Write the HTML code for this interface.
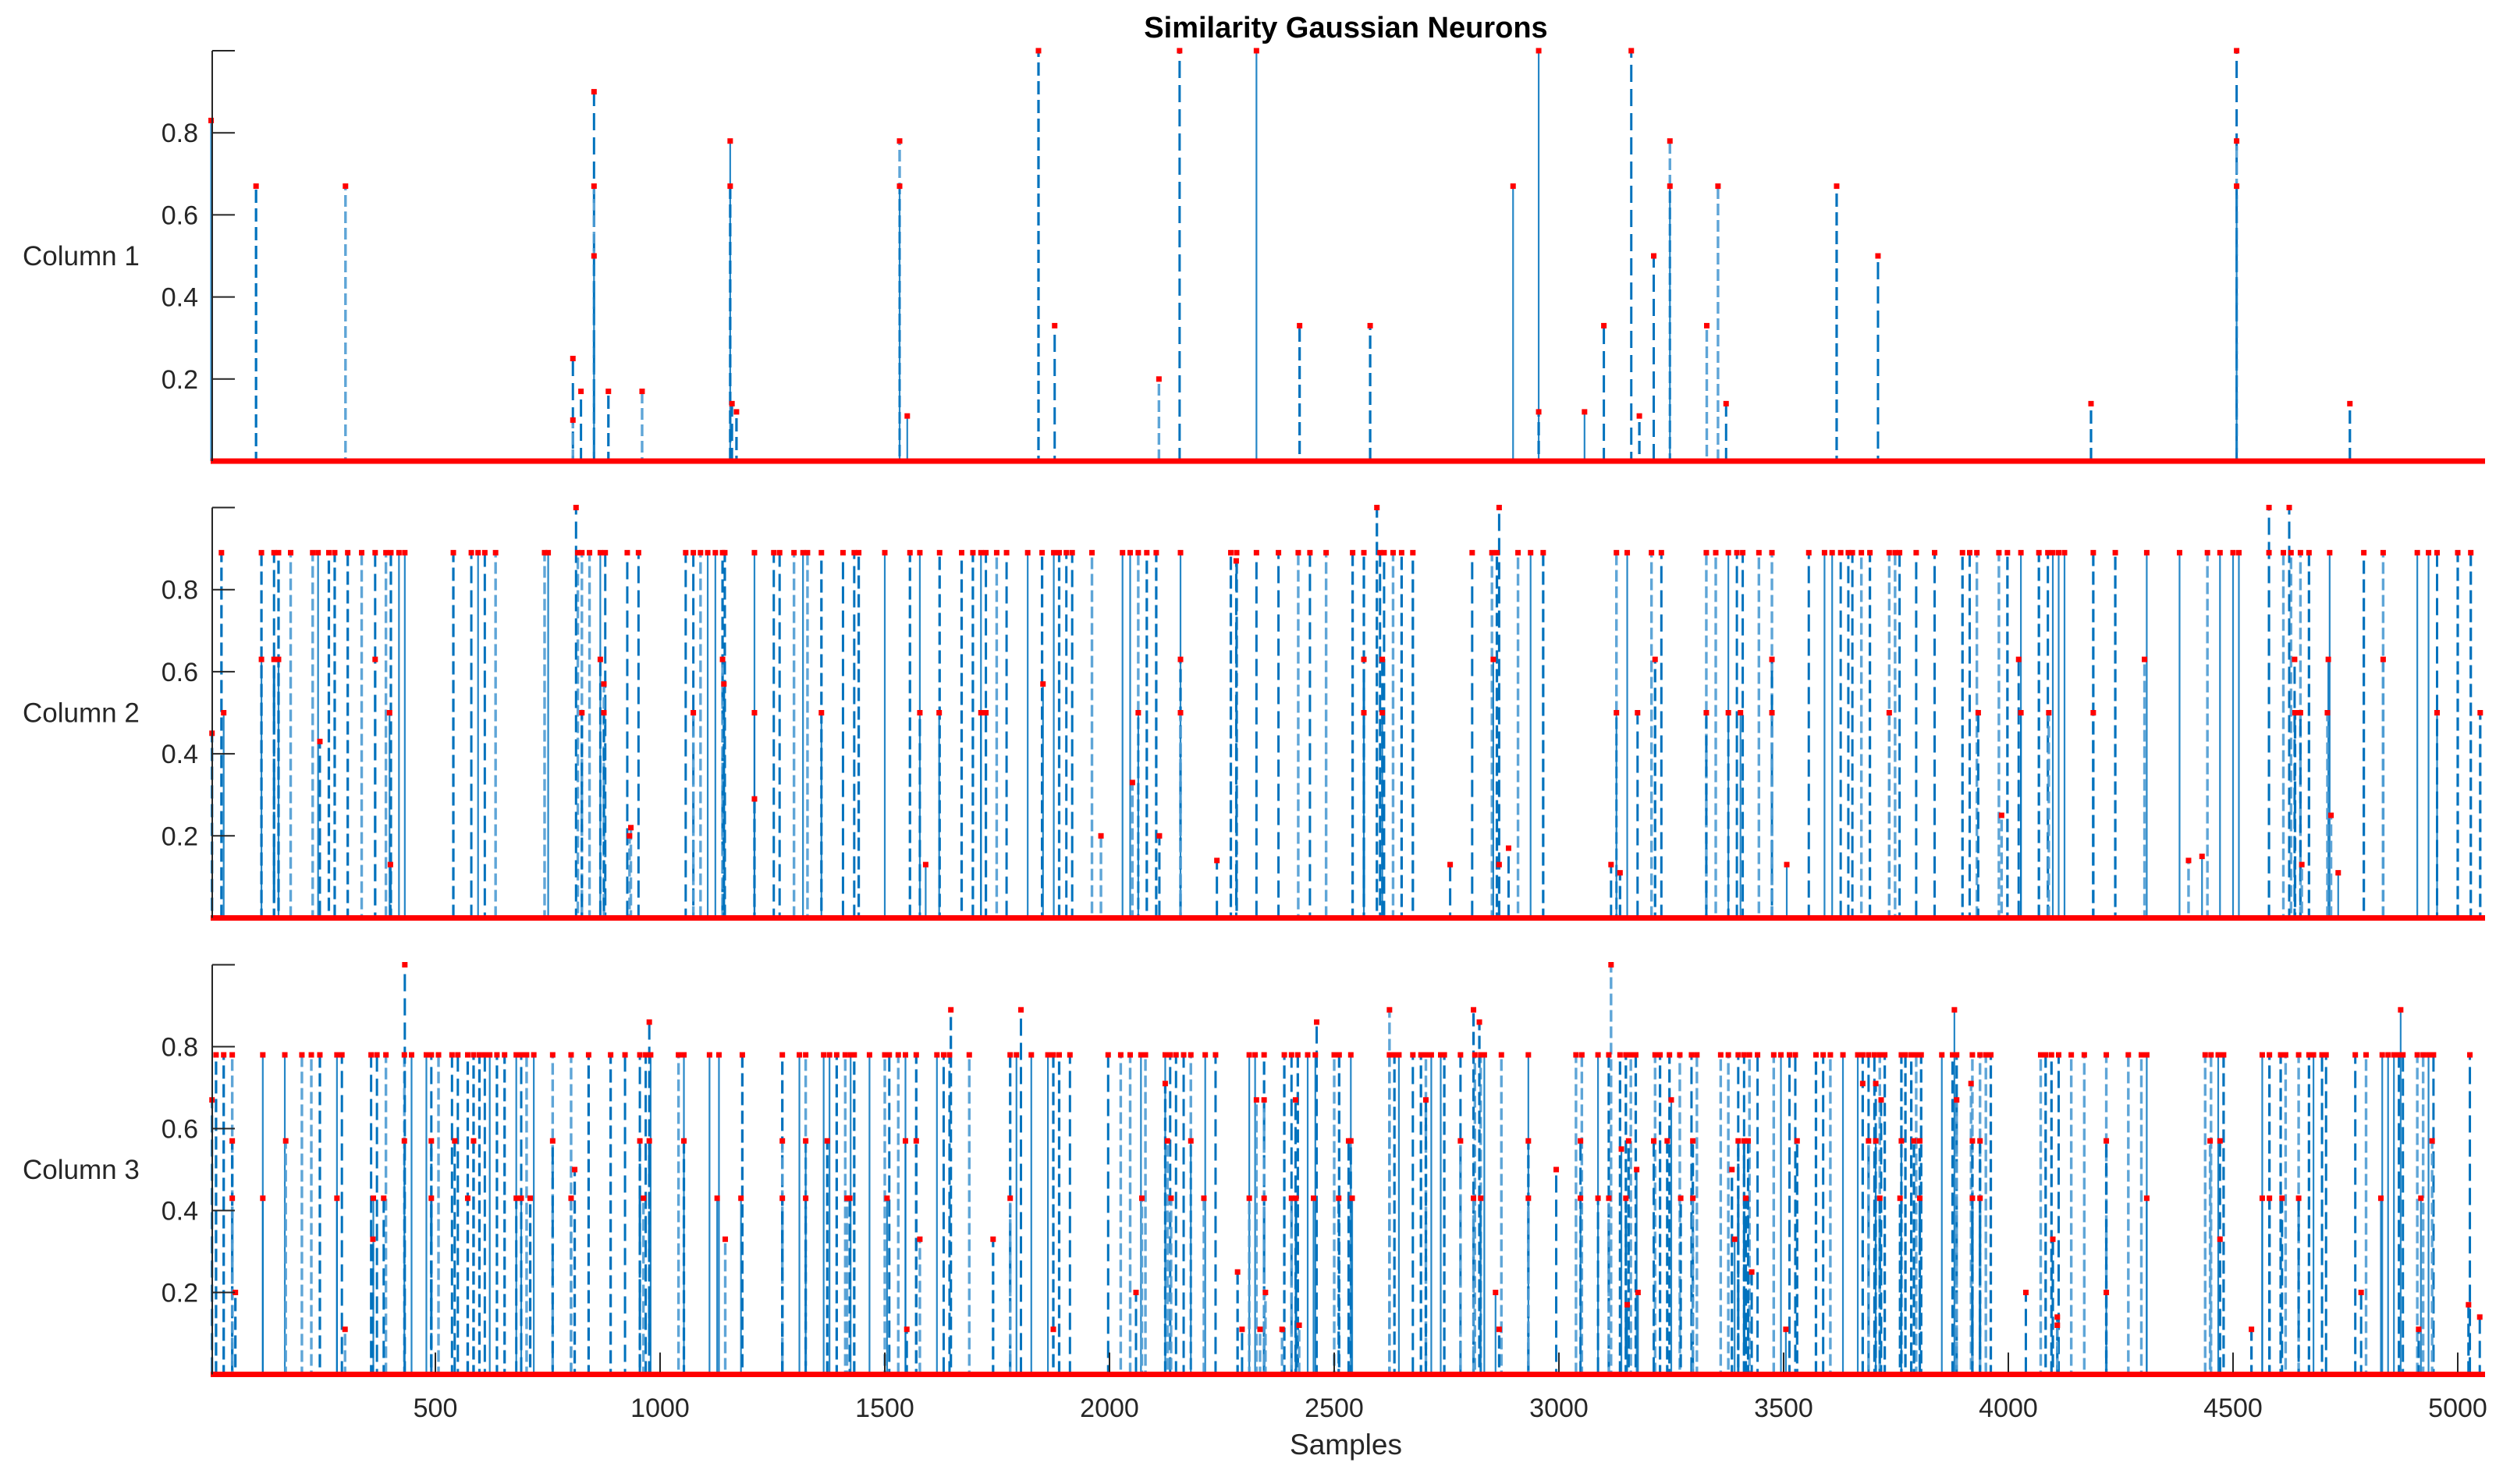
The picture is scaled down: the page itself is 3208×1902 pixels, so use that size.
<!DOCTYPE html>
<html><head><meta charset="utf-8"><style>
html,body{margin:0;padding:0;background:#fff;}
svg{display:block;}
text{font-family:"Liberation Sans",Arial,sans-serif;fill:#262626;}
</style></head><body>
<svg id="chart" width="3208" height="1902" viewBox="0 0 3208 1902" xmlns="http://www.w3.org/2000/svg">
<rect width="3208" height="1902" fill="#fff"/>
<text x="1725" y="48" text-anchor="middle" font-size="38" font-weight="bold" style="fill:#000">Similarity Gaussian Neurons</text>
<text x="1725" y="1864" text-anchor="middle" font-size="37">Samples</text>
<g id="plots"></g>
</svg>
<script>
const xTickValues = [500,1000,1500,2000,2500,3000,3500,4000,4500,5000];
const yTickValues = [0.2,0.4,0.6,0.8];
const panelLabels = ["Column 1","Column 2","Column 3"];
const col1 = [[1,0.83],[101,0.67],[300,0.67],[806,0.25],[806,0.1],[824,0.17],[853,0.9],[853,0.67],[853,0.5],[885,0.17],[960,0.17],[1156,0.78],[1156,0.67],[1160,0.14],[1170,0.12],[1533,0.78],[1533,0.67],[1550,0.11],[1842,1.0],[1878,0.33],[2110,0.2],[2156,1.0],[2327,1.0],[2423,0.33],[2580,0.33],[2898,0.67],[2955,1.0],[2955,0.12],[3057,0.12],[3100,0.33],[3161,1.0],[3179,0.11],[3211,0.5],[3247,0.78],[3247,0.67],[3329,0.33],[3354,0.67],[3372,0.14],[3618,0.67],[3710,0.5],[4184,0.14],[4508,1.0],[4508,0.78],[4508,0.67],[4760,0.14]];
const col2Top = [24,113,141,151,178,227,239,263,276,305,336,366,390,401,419,432,540,580,595,610,634,743,751,817,826,843,867,878,927,952,1057,1074,1090,1106,1123,1139,1144,1210,1253,1266,1298,1318,1328,1359,1407,1432,1442,1500,1556,1578,1622,1671,1696,1714,1725,1749,1771,1818,1850,1876,1888,1904,1917,1961,2029,2046,2064,2083,2104,2158,2270,2283,2327,2376,2420,2446,2482,2541,2566,2602,2611,2631,2650,2675,2807,2851,2862,2909,2937,2965,3128,3152,3206,3228,3328,3349,3377,3396,3409,3445,3474,3556,3591,3608,3627,3644,3653,3673,3692,3735,3748,3758,3795,3836,3898,3914,3930,3979,3998,4028,4068,4088,4099,4112,4125,4189,4238,4308,4381,4443,4471,4500,4513,4580,4612,4629,4650,4669,4715,4791,4834,4910,4935,4954,5000,5029];
const col2TopValue = 0.89;
const col2Other = [[813,1.0],[2595,1.0],[2867,1.0],[4580,1.0],[4625,1.0],[2282,0.87],[113,0.63],[141,0.63],[151,0.63],[366,0.63],[867,0.63],[1139,0.63],[2158,0.63],[2566,0.63],[2607,0.63],[2854,0.63],[3214,0.63],[3474,0.63],[4023,0.63],[4303,0.63],[4637,0.63],[4712,0.63],[4834,0.63],[875,0.57],[1142,0.57],[1852,0.57],[29,0.5],[398,0.5],[826,0.5],[875,0.5],[1074,0.5],[1210,0.5],[1359,0.5],[1578,0.5],[1621,0.5],[1714,0.5],[1725,0.5],[2064,0.5],[2158,0.5],[2566,0.5],[2607,0.5],[3128,0.5],[3175,0.5],[3328,0.5],[3377,0.5],[3404,0.5],[3474,0.5],[3735,0.5],[3933,0.5],[4028,0.5],[4090,0.5],[4189,0.5],[4638,0.5],[4650,0.5],[4710,0.5],[4954,0.5],[5050,0.5],[3,0.45],[243,0.43],[2051,0.33],[1210,0.29],[3985,0.25],[4718,0.25],[935,0.22],[932,0.2],[1981,0.2],[2111,0.2],[2888,0.17],[4431,0.15],[4401,0.14],[2239,0.14],[400,0.13],[1591,0.13],[2758,0.13],[2867,0.13],[3116,0.13],[3507,0.13],[4653,0.13],[3136,0.11],[4734,0.11]];
const col3Top = [12,29,48,116,165,203,224,243,281,292,357,370,390,431,447,480,491,507,537,550,572,585,598,610,621,637,654,680,691,703,719,761,802,841,890,922,955,968,979,1041,1053,1110,1131,1183,1272,1310,1324,1364,1377,1393,1412,1424,1432,1466,1500,1510,1530,1546,1570,1616,1631,1644,1688,1779,1793,1826,1863,1875,1888,1912,1997,2025,2046,2070,2080,2124,2135,2148,2165,2181,2213,2236,2311,2324,2344,2389,2405,2419,2441,2458,2500,2511,2537,2623,2634,2644,2675,2693,2704,2716,2737,2745,2781,2813,2826,2834,2872,2932,3038,3051,3087,3111,3136,3149,3160,3171,3214,3225,3246,3269,3295,3307,3360,3377,3399,3412,3424,3442,3478,3494,3513,3526,3572,3588,3604,3632,3665,3676,3689,3702,3714,3725,3762,3771,3784,3795,3806,3852,3876,3885,3920,3937,3950,3961,4072,4083,4096,4112,4140,4169,4218,4267,4296,4308,4438,4451,4467,4479,4565,4581,4606,4617,4646,4669,4679,4698,4707,4772,4796,4832,4845,4858,4869,4878,4910,4923,4935,4946,5027];
const col3TopValue = 0.78;
const col3Other = [[432,1.0],[3116,1.0],[1647,0.89],[1803,0.89],[2623,0.89],[2810,0.89],[3880,0.89],[4873,0.89],[976,0.86],[2461,0.86],[2823,0.86],[2124,0.71],[3676,0.71],[3705,0.71],[3917,0.71],[3,0.67],[2327,0.67],[2344,0.67],[2414,0.67],[2704,0.67],[3250,0.67],[3717,0.67],[3885,0.67],[48,0.57],[167,0.57],[431,0.57],[491,0.57],[543,0.57],[585,0.57],[761,0.57],[955,0.57],[976,0.57],[1053,0.57],[1272,0.57],[1324,0.57],[1372,0.57],[1546,0.57],[1570,0.57],[2129,0.57],[2181,0.57],[2532,0.57],[2537,0.57],[2781,0.57],[2932,0.57],[3048,0.57],[3139,0.55],[3155,0.57],[3211,0.57],[3241,0.57],[3298,0.57],[3399,0.57],[3412,0.57],[3421,0.57],[3530,0.57],[3689,0.57],[3705,0.57],[3762,0.57],[3790,0.57],[3803,0.57],[3920,0.57],[3937,0.57],[4218,0.57],[4449,0.57],[4471,0.57],[4943,0.57],[810,0.5],[2994,0.5],[3173,0.5],[3385,0.5],[48,0.43],[116,0.43],[281,0.43],[362,0.43],[385,0.43],[491,0.43],[572,0.43],[680,0.43],[691,0.43],[711,0.43],[802,0.43],[963,0.43],[1127,0.43],[1180,0.43],[1272,0.43],[1324,0.43],[1416,0.43],[1422,0.43],[1505,0.43],[1779,0.43],[2072,0.43],[2137,0.43],[2210,0.43],[2311,0.43],[2344,0.43],[2405,0.43],[2415,0.43],[2454,0.43],[2510,0.43],[2540,0.43],[2810,0.43],[2826,0.43],[2932,0.43],[3048,0.43],[3087,0.43],[3111,0.43],[3149,0.43],[3271,0.43],[3298,0.43],[3416,0.43],[3714,0.43],[3759,0.43],[3803,0.43],[3920,0.43],[3937,0.43],[4308,0.43],[4565,0.43],[4581,0.43],[4609,0.43],[4646,0.43],[4829,0.43],[4918,0.43],[361,0.33],[1145,0.33],[1578,0.33],[1741,0.33],[3391,0.33],[4099,0.33],[4471,0.33],[2285,0.25],[3429,0.25],[55,0.2],[2059,0.2],[2347,0.2],[2859,0.2],[3176,0.2],[4039,0.2],[4218,0.2],[4785,0.2],[3152,0.17],[5024,0.17],[4109,0.14],[5049,0.14],[4109,0.12],[2422,0.12],[299,0.11],[1549,0.11],[1875,0.11],[2295,0.11],[2335,0.11],[2384,0.11],[2867,0.11],[3505,0.11],[4541,0.11],[4913,0.11]];

const NS = "http://www.w3.org/2000/svg";
const X0 = 270, XS = 0.576, XEND = 3185, AXL = 272;
const panels = [{top:65,bot:591},{top:650.5,bot:1176.5},{top:1236.5,bot:1761.5}];
function xPos(s){ return X0 + XS*s; }
function mk(tag, attrs, parent){ const e=document.createElementNS(NS,tag); for(const k in attrs) e.setAttribute(k,attrs[k]); parent.appendChild(e); return e; }
const root = document.getElementById('plots');

function build(col){
  const out = [];
  if (col.top) { col.top.forEach(s => out.push([s, col.topValue])); }
  col.other.forEach(p => out.push(p));
  return out;
}
const series = [
  build({top:null, other:col1}),
  build({top:col2Top, topValue:col2TopValue, other:col2Other}),
  build({top:col3Top, topValue:col3TopValue, other:col3Other})
];
const stemStyles = [
  {c:"#0072BD", d:"17 7", w:3.2, o:1},
  {c:"#0072BD", d:"", w:2.2, o:0.85},
  {c:"#4c9bd3", d:"15 6", w:3.4, o:0.9},
  {c:"#0072BD", d:"22 9", w:3.0, o:1}
];

panels.forEach((p, pi) => {
  const yPos = v => p.bot - (p.bot - p.top)*v;
  const g = mk('g', {}, root);
  
  
  const stems = mk('g', {}, g);
  
  
  const data = series[pi];
  data.forEach((pt, i) => {
    const st = stemStyles[(i*7 + Math.floor(pt[0])) % stemStyles.length];
    const ln = mk('line', {x1:xPos(pt[0]), x2:xPos(pt[0]), y1:p.bot, y2:yPos(pt[1]), stroke:st.c, 'stroke-width':st.w, 'stroke-opacity':st.o}, stems);
    if (st.d) { ln.setAttribute('stroke-dasharray', st.d); ln.setAttribute('stroke-dashoffset', (i*5)%20); }
    
    
  });
  data.forEach(pt => {
    const r = mk('rect', {x:xPos(pt[0])-3.5, y:yPos(pt[1])-3.5, width:7, height:7, fill:'#ff0000'}, stems);
    
    
  });
  const bl = mk('line', {x1:X0, x2:XEND, y1:p.bot, y2:p.bot, stroke:'#ff0000', 'stroke-width':7}, g);
  
  
  const ax = mk('line', {x1:AXL, x2:AXL, y1:p.top, y2:p.bot, stroke:'#262626', 'stroke-width':2}, g);
  
  
  const topTick = mk('line', {x1:AXL, x2:AXL+29, y1:p.top, y2:p.top, stroke:'#262626', 'stroke-width':2}, g);
  
  
  yTickValues.forEach(v => {
    const t = mk('line', {x1:AXL, x2:AXL+29, y1:yPos(v), y2:yPos(v), stroke:'#262626', 'stroke-width':2}, g);
    
    
    const lb = mk('text', {x:254, y:yPos(v)+12, 'text-anchor':'end', 'font-size':34}, g);
    lb.textContent = String(v);
    
    
  });
  const yl = mk('text', {x:29, y:(p.top+p.bot)/2 + 12, 'font-size':35}, g);
  yl.textContent = panelLabels[pi];
  
  
  if (pi === 2) {
    xTickValues.forEach(v => {
    const t = mk('line', {x1:xPos(v), x2:xPos(v), y1:p.bot-3, y2:p.bot-28, stroke:'#262626', 'stroke-width':2}, g);
    
    
    const lb = mk('text', {x:xPos(v), y:1816, 'text-anchor':'middle', 'font-size':34}, g);
    lb.textContent = String(v);
    
    
    });
  }
});
</script>
</body></html>
